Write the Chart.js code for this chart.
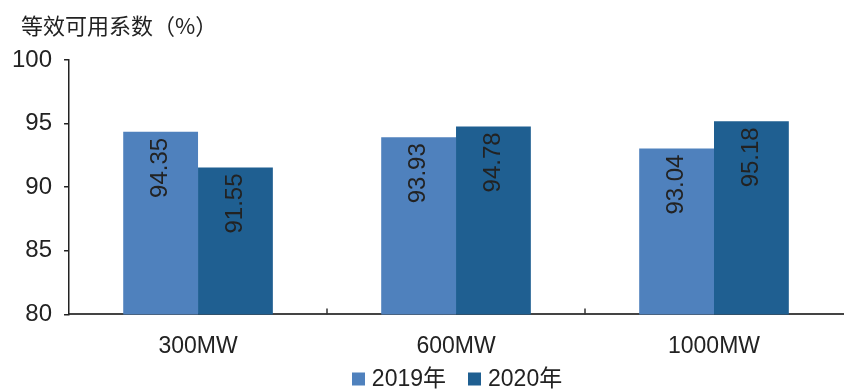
<!DOCTYPE html>
<html>
<head>
<meta charset="utf-8">
<script src="https://cdn.jsdelivr.net/npm/chart.js@4/dist/chart.umd.min.js"></script>
<style>
  html, body { margin: 0; padding: 0; background: #fff; }
  #wrap { width: 845px; height: 390px; position: relative; }
</style>
</head>
<body>
<div id="wrap"><canvas id="chart"></canvas></div>
<script>
// 机组容量等级
const categories = ['300MW', '600MW', '1000MW'];
// 等效可用系数（%）
const values2019 = [94.35, 93.93, 93.04];
const values2020 = [91.55, 94.78, 95.18];
const seriesNames = ['2019年', '2020年'];
const yTicks = [80, 85, 90, 95, 100];

const FONT = '"Liberation Sans", Arial, "Noto Sans CJK SC", sans-serif';
const colors = ['#4f81bd', '#1f5f91'];

// 柱内竖排数值标签
const barLabels = {
  id: 'barLabels',
  afterDatasetsDraw(chart) {
    const ctx = chart.ctx;
    ctx.save();
    ctx.fillStyle = '#222';
    ctx.font = '24px ' + FONT;
    chart.data.datasets.forEach((ds, i) => {
      chart.getDatasetMeta(i).data.forEach((bar, j) => {
        ctx.save();
        ctx.translate(bar.x, bar.y + 6);
        ctx.rotate(-Math.PI / 2);
        ctx.textAlign = 'right';
        ctx.textBaseline = 'middle';
        ctx.fillText(ds.data[j].toFixed(2), 0, 0);
        ctx.restore();
      });
    });
    ctx.restore();
  }
};

// 纵轴标题、横轴分隔刻度、底部图例
const extras = {
  id: 'extras',
  afterDraw(chart) {
    const ctx = chart.ctx;
    const x = chart.scales.x;
    const area = chart.chartArea;
    ctx.save();
    ctx.strokeStyle = '#333';
    ctx.lineWidth = 1.5;
    for (let i = 1; i < categories.length; i++) {
      const px = Math.round(x.getPixelForValue(i - 0.5));
      ctx.beginPath();
      ctx.moveTo(px, area.bottom);
      ctx.lineTo(px, area.bottom - 6);
      ctx.stroke();
    }

    ctx.fillStyle = '#222';
    ctx.font = '22px "Noto Sans CJK SC", sans-serif';
    ctx.textAlign = 'left';
    ctx.textBaseline = 'middle';
    ctx.fillText('等效可用系数（%）', 21, 26);

    // 图例
    const box = 13, gap = 7, spacing = 22, cy = 379;
    ctx.font = '23px ' + FONT;
    const items = chart.data.datasets.map(ds => ({
      text: ds.label, color: ds.backgroundColor, w: box + gap + ctx.measureText(ds.label).width
    }));
    const total = items.reduce((s, it) => s + it.w, 0) + spacing * (items.length - 1);
    let lx = (area.left + area.right) / 2 - total / 2 + 1;
    items.forEach(it => {
      ctx.fillStyle = it.color;
      ctx.fillRect(Math.round(lx), cy - box / 2, box, box);
      ctx.fillStyle = '#222';
      ctx.fillText(it.text, lx + box + gap, cy + 1);
      lx += it.w + spacing;
    });
    ctx.restore();
  }
};

new Chart(document.getElementById('chart'), {
  type: 'bar',
  data: {
    labels: categories,
    datasets: [
      { label: seriesNames[0], data: values2019, backgroundColor: colors[0] },
      { label: seriesNames[1], data: values2020, backgroundColor: colors[1] }
    ]
  },
  options: {
    responsive: true,
    maintainAspectRatio: false,
    animation: false,
    layout: { padding: { top: 60, right: 2, left: 0, bottom: 20 } },
    datasets: {
      bar: { categoryPercentage: 0.58, barPercentage: 1.0, borderWidth: 0 }
    },
    plugins: {
      legend: { display: false },
      tooltip: { enabled: false }
    },
    scales: {
      x: {
        grid: { display: false },
        border: { color: '#444', width: 2 },
        ticks: { color: '#222', padding: 10, font: { family: FONT, size: 23 } }
      },
      y: {
        min: 80,
        max: 100,
        afterBuildTicks(scale) {
          scale.ticks = yTicks.map(v => ({ value: v }));
        },
        grid: { drawOnChartArea: false, drawTicks: true, tickLength: 5, color: '#222', lineWidth: 1.5 },
        border: { color: '#222', width: 1.5 },
        ticks: { color: '#222', padding: 12, font: { family: FONT, size: 24 } }
      }
    }
  },
  plugins: [barLabels, extras]
});
</script>
</body>
</html>
